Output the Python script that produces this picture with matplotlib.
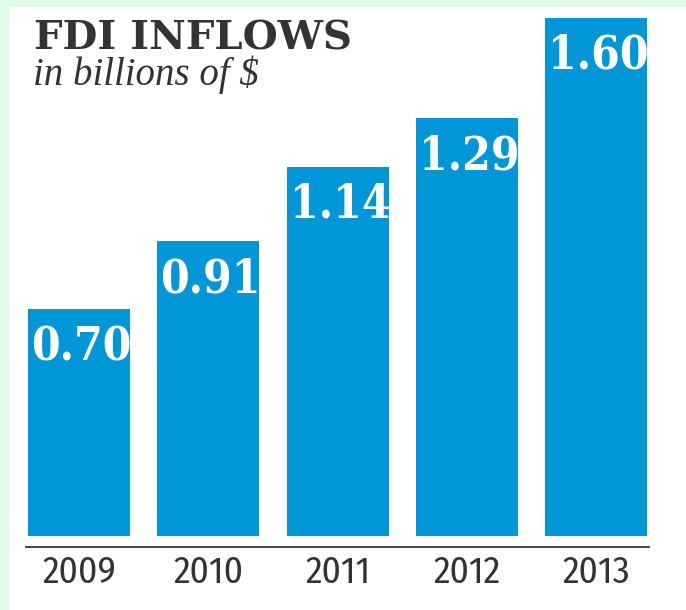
import matplotlib
matplotlib.use("Agg")
import matplotlib.pyplot as plt
from matplotlib.patches import Rectangle

# Data
years = ['2009', '2010', '2011', '2012', '2013']
inflows = [0.70, 0.91, 1.14, 1.29, 1.60]
value_labels = ['0.70', '0.91', '1.14', '1.29', '1.60']

W, H = 686, 610
fig = plt.figure(figsize=(W / 100, H / 100), dpi=100)
fig.patch.set_facecolor('white')

# light green frame on top and left
green = '#e0fce6'
fig.patches.append(Rectangle((0, 1 - 7 / H), 1, 7 / H, transform=fig.transFigure,
                             facecolor=green, edgecolor='none', zorder=0))
fig.patches.append(Rectangle((0, 0), 9 / W, 1, transform=fig.transFigure,
                             facecolor=green, edgecolor='none', zorder=0))

# axes: bottom spine is the baseline under the bars
axis_px = 547
ax = fig.add_axes([0, (H - axis_px) / H, 1, axis_px / H])
ax.set_facecolor('none')

px_x = 129.3      # pixels per category
px_y = 324.0      # pixels per billion
c0 = 79           # center of first bar in px
bar_w = 0.79
x = list(range(len(years)))

ax.bar(x, inflows, width=bar_w, color='#0096d8', zorder=2)

ax.set_xlim(-c0 / px_x, (W - c0) / px_x)
ax.set_ylim(-11 / px_y, (axis_px - 11) / px_y)

for s in ['top', 'right', 'left']:
    ax.spines[s].set_visible(False)
ax.spines['bottom'].set_color('#444444')
ax.spines['bottom'].set_linewidth(1.4)
ax.spines['bottom'].set_bounds(-0.41, 4.41)
ax.set_yticks([])
ax.set_xticks(x)
ax.set_xticklabels(years, family=['Fira Sans Condensed', 'DejaVu Sans'],
                   fontstretch='condensed', fontsize=27, color='#333333')
ax.tick_params(axis='x', length=0, pad=6)

# value labels inside top of bars
for xi, v, lab in zip(x, inflows, value_labels):
    ax.annotate(lab, xy=(xi - bar_w / 2, v), xytext=(3, -51),
                textcoords='offset pixels', ha='left', va='baseline',
                family='DejaVu Serif', fontstretch='condensed', fontweight='bold',
                fontsize=33, color='white', zorder=3)

# title block
fig.text(34 / W, 1 - 50 / H, 'FDI INFLOWS', family='DejaVu Serif', fontweight='bold',
         fontsize=29, color='#333333', ha='left', va='baseline')
fig.text(33 / W, 1 - 85 / H, 'in billions of $', family='Liberation Serif',
         style='italic', fontsize=28, color='#333333', ha='left', va='baseline')

fig.savefig('out.png', dpi=100)
